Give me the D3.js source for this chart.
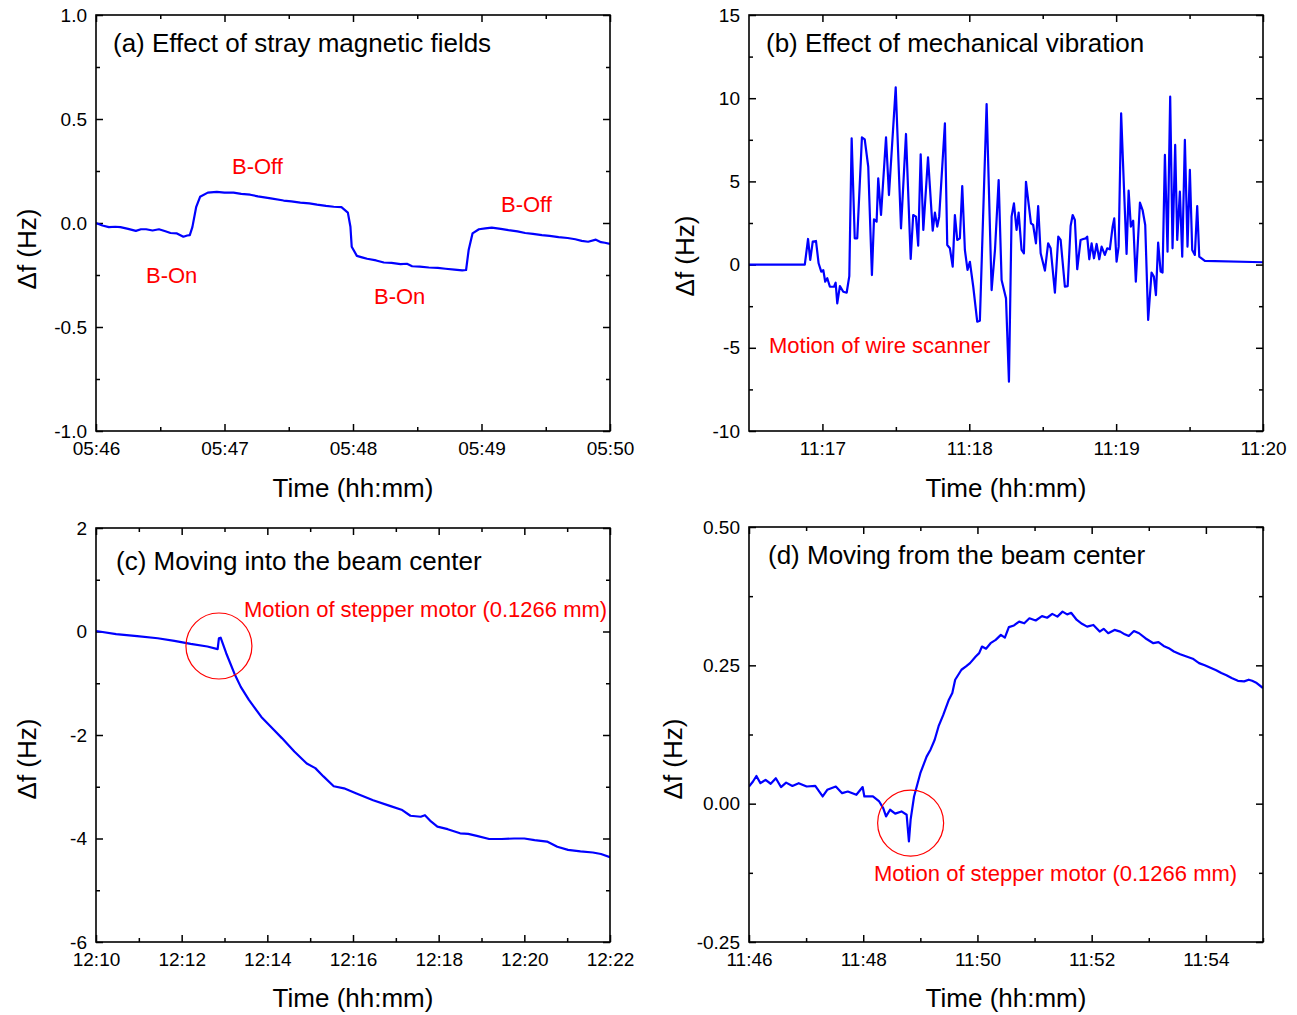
<!DOCTYPE html>
<html>
<head>
<meta charset="utf-8">
<script src="https://cdnjs.cloudflare.com/ajax/libs/d3/7.8.5/d3.min.js"></script>
<style>
  body { margin: 0; background: #fff; }
  svg { display: block; }
  text { font-family: Arial, "Liberation Sans", sans-serif; }
</style>
</head>
<body>
<svg id="chart" width="1297" height="1015"></svg>
<script>
// ---- data (time = decimal minutes after the hour, df in Hz) ----

// (a) 05:46 - 05:50
const timeA = [46.00, 46.05, 46.10, 46.15, 46.19, 46.25, 46.31, 46.35, 46.39, 46.44, 46.49, 46.54, 46.58, 46.63, 46.68, 46.71, 46.73, 46.75, 46.78, 46.81, 46.87, 46.94, 47.00, 47.07, 47.13, 47.20, 47.26, 47.36, 47.46, 47.52, 47.59, 47.66, 47.72, 47.79, 47.85, 47.91, 47.96, 47.98, 47.99, 48.03, 48.07, 48.11, 48.18, 48.24, 48.30, 48.37, 48.42, 48.46, 48.52, 48.59, 48.66, 48.72, 48.79, 48.85, 48.88, 48.90, 48.93, 48.98, 49.03, 49.08, 49.15, 49.21, 49.28, 49.34, 49.40, 49.47, 49.53, 49.60, 49.67, 49.73, 49.78, 49.83, 49.89, 49.93, 49.96, 50.00];
const dfA   = [0.000, -0.012, -0.020, -0.018, -0.020, -0.028, -0.038, -0.030, -0.030, -0.036, -0.030, -0.040, -0.048, -0.050, -0.066, -0.060, -0.058, -0.020, 0.078, 0.126, 0.146, 0.150, 0.146, 0.146, 0.140, 0.136, 0.128, 0.118, 0.108, 0.104, 0.098, 0.094, 0.088, 0.082, 0.078, 0.076, 0.050, -0.018, -0.114, -0.158, -0.165, -0.172, -0.180, -0.190, -0.192, -0.198, -0.196, -0.208, -0.210, -0.214, -0.216, -0.220, -0.224, -0.228, -0.226, -0.130, -0.050, -0.030, -0.026, -0.022, -0.028, -0.034, -0.040, -0.048, -0.052, -0.058, -0.062, -0.068, -0.072, -0.078, -0.086, -0.090, -0.080, -0.092, -0.095, -0.100];

// (b) 11:16:30 - 11:20
const timeB = [16.50, 16.88, 16.902, 16.917, 16.934, 16.956, 16.974, 16.992, 17.006, 17.019, 17.033, 17.051, 17.079, 17.090, 17.101, 17.119, 17.142, 17.165, 17.183, 17.199, 17.220, 17.237, 17.269, 17.288, 17.312, 17.337, 17.351, 17.369, 17.380, 17.399, 17.433, 17.453, 17.499, 17.535, 17.569, 17.601, 17.618, 17.637, 17.652, 17.669, 17.687, 17.719, 17.751, 17.766, 17.782, 17.795, 17.834, 17.850, 17.868, 17.887, 17.902, 17.918, 17.936, 17.952, 17.970, 17.988, 18.004, 18.027, 18.054, 18.072, 18.118, 18.152, 18.175, 18.200, 18.220, 18.250, 18.270, 18.288, 18.304, 18.322, 18.336, 18.356, 18.372, 18.386, 18.401, 18.420, 18.435, 18.454, 18.469, 18.486, 18.515, 18.537, 18.554, 18.583, 18.606, 18.622, 18.651, 18.670, 18.690, 18.704, 18.719, 18.735, 18.758, 18.776, 18.794, 18.803, 18.817, 18.833, 18.849, 18.867, 18.885, 18.901, 18.923, 18.939, 18.957, 18.976, 18.987, 19.003, 19.017, 19.034, 19.053, 19.071, 19.085, 19.100, 19.116, 19.134, 19.162, 19.180, 19.198, 19.218, 19.241, 19.257, 19.271, 19.286, 19.303, 19.316, 19.332, 19.350, 19.368, 19.384, 19.402, 19.416, 19.434, 19.450, 19.468, 19.486, 19.502, 19.518, 19.536, 19.552, 19.566, 19.604, 20.00];
const dfB   = [0.00, 0.00, 1.54, 0.28, 1.38, 1.42, 0.08, -0.42, -0.33, -1.03, -0.82, -1.33, -1.33, -1.09, -2.33, -1.29, -1.63, -1.69, -0.69, 7.59, 1.58, 1.58, 7.65, 7.53, 5.88, -0.63, 2.72, 2.58, 5.19, 2.98, 7.65, 4.18, 10.65, 2.18, 7.85, 0.34, 2.98, 2.88, 1.14, 6.63, 2.08, 6.45, 2.04, 3.12, 2.28, 2.88, 8.49, 1.18, 0.98, -0.12, 2.98, 1.48, 1.58, 4.72, 0.88, -0.32, 0.17, -1.33, -3.43, -3.37, 9.65, -1.53, 0.88, 5.08, -0.93, -2.03, -7.04, 2.88, 3.68, 2.08, 3.12, 0.88, 0.68, 4.98, 3.88, 2.48, 2.38, 1.28, 3.52, 0.68, -0.36, 1.28, 0.98, -1.69, 1.68, 1.48, -1.33, -1.29, 2.32, 2.98, 2.68, -0.28, 1.48, 1.54, 1.58, 1.68, 0.32, 1.28, 0.38, 1.24, 0.32, 1.08, 0.58, 0.98, 0.92, 2.28, 2.78, 0.18, 1.08, 9.09, 4.68, 0.64, 4.44, 2.28, 2.64, -1.03, 3.72, 3.28, 2.38, -3.33, -0.48, -0.72, -1.83, 1.32, -0.42, -0.48, 6.59, 0.78, 10.09, 0.98, 7.19, 1.48, 4.38, 0.48, 7.49, 1.08, 5.69, 0.88, 0.58, 3.52, 0.48, 0.22, 0.14];

// (c) 12:10 - 12:22
const timeC = [10.00, 10.47, 10.96, 11.44, 11.83, 12.21, 12.60, 12.84, 12.87, 12.91, 13.04, 13.23, 13.38, 13.57, 13.86, 14.15, 14.34, 14.63, 14.92, 15.12, 15.31, 15.55, 15.79, 16.08, 16.47, 16.86, 17.15, 17.34, 17.58, 17.68, 17.82, 17.97, 18.21, 18.50, 18.69, 18.89, 19.18, 19.47, 19.76, 20.00, 20.24, 20.53, 20.77, 21.02, 21.31, 21.60, 21.79, 22.00];
const dfC   = [0.01, -0.05, -0.09, -0.13, -0.18, -0.24, -0.29, -0.34, -0.13, -0.12, -0.42, -0.81, -1.07, -1.32, -1.65, -1.90, -2.06, -2.32, -2.55, -2.64, -2.80, -2.99, -3.03, -3.13, -3.26, -3.37, -3.45, -3.56, -3.58, -3.55, -3.67, -3.77, -3.82, -3.90, -3.91, -3.95, -4.01, -4.01, -4.00, -4.00, -4.03, -4.06, -4.16, -4.22, -4.25, -4.27, -4.30, -4.36];

// (d) 11:46 - 11:55
const timeD = [46.00, 46.07, 46.13, 46.20, 46.29, 46.38, 46.47, 46.56, 46.65, 46.76, 46.87, 47.01, 47.16, 47.29, 47.37, 47.52, 47.63, 47.73, 47.88, 47.99, 48.02, 48.17, 48.28, 48.35, 48.40, 48.47, 48.56, 48.67, 48.76, 48.80, 48.83, 48.89, 49.00, 49.11, 49.18, 49.25, 49.32, 49.40, 49.50, 49.56, 49.61, 49.72, 49.80, 49.87, 49.97, 50.03, 50.08, 50.15, 50.23, 50.32, 50.41, 50.48, 50.55, 50.64, 50.73, 50.82, 50.91, 51.02, 51.13, 51.22, 51.31, 51.40, 51.49, 51.57, 51.64, 51.74, 51.83, 51.92, 52.03, 52.14, 52.21, 52.29, 52.40, 52.50, 52.58, 52.65, 52.74, 52.83, 52.94, 53.08, 53.17, 53.26, 53.35, 53.44, 53.55, 53.66, 53.77, 53.88, 53.98, 54.09, 54.18, 54.27, 54.36, 54.45, 54.56, 54.67, 54.75, 54.81, 54.89, 55.00];
const dfD   = [0.031, 0.040, 0.050, 0.037, 0.043, 0.036, 0.046, 0.030, 0.038, 0.032, 0.037, 0.031, 0.032, 0.013, 0.025, 0.031, 0.019, 0.022, 0.016, 0.030, 0.013, 0.013, 0.004, -0.008, -0.023, -0.011, -0.018, -0.014, -0.020, -0.068, -0.029, 0.013, 0.055, 0.085, 0.098, 0.115, 0.140, 0.160, 0.188, 0.200, 0.224, 0.242, 0.248, 0.254, 0.266, 0.272, 0.284, 0.280, 0.290, 0.296, 0.305, 0.300, 0.319, 0.322, 0.329, 0.326, 0.335, 0.331, 0.339, 0.336, 0.343, 0.338, 0.347, 0.342, 0.345, 0.332, 0.325, 0.320, 0.323, 0.311, 0.316, 0.308, 0.314, 0.311, 0.306, 0.303, 0.312, 0.308, 0.299, 0.290, 0.292, 0.285, 0.281, 0.275, 0.270, 0.266, 0.262, 0.254, 0.250, 0.245, 0.241, 0.236, 0.232, 0.227, 0.222, 0.221, 0.224, 0.222, 0.218, 0.209];

// tick values and labels
const xTicksA = [46, 47, 48, 49, 50], xLabelsA = ["05:46", "05:47", "05:48", "05:49", "05:50"];
const xMinorA = [46.5, 47.5, 48.5, 49.5];
const yTicksA = [1.0, 0.5, 0.0, -0.5, -1.0], yLabelsA = ["1.0", "0.5", "0.0", "-0.5", "-1.0"];
const yMinorA = [0.75, 0.25, -0.25, -0.75];

const xTicksB = [17, 18, 19, 20], xLabelsB = ["11:17", "11:18", "11:19", "11:20"];
const xMinorB = [17.5, 18.5, 19.5];
const yTicksB = [15, 10, 5, 0, -5, -10], yLabelsB = ["15", "10", "5", "0", "-5", "-10"];
const yMinorB = [12.5, 7.5, 2.5, -2.5, -7.5];

const xTicksC = [10, 12, 14, 16, 18, 20, 22], xLabelsC = ["12:10", "12:12", "12:14", "12:16", "12:18", "12:20", "12:22"];
const xMinorC = [11, 13, 15, 17, 19, 21];
const yTicksC = [2, 0, -2, -4, -6], yLabelsC = ["2", "0", "-2", "-4", "-6"];
const yMinorC = [1, -1, -3, -5];

const xTicksD = [46, 48, 50, 52, 54], xLabelsD = ["11:46", "11:48", "11:50", "11:52", "11:54"];
const xMinorD = [47, 49, 51, 53, 55];
const yTicksD = [0.50, 0.25, 0.00, -0.25], yLabelsD = ["0.50", "0.25", "0.00", "-0.25"];
const yMinorD = [0.375, 0.125, -0.125];

const svg = d3.select("#chart");

const panels = [
  { id: "a", left: 96, right: 610, top: 15, bottom: 431, xDomain: [46, 50], yDomain: [-1, 1],
    t: timeA, v: dfA, xT: xTicksA, xL: xLabelsA, xM: xMinorA, yT: yTicksA, yL: yLabelsA, yM: yMinorA,
    title: "(a) Effect of stray magnetic fields", titlePos: [17, 37], yTitleX: 27, yTitleY: 249,
    notes: [["B-Off", 136, 159], ["B-On", 50, 268], ["B-On", 278, 289], ["B-Off", 405, 197]] },
  { id: "b", left: 749, right: 1263, top: 15, bottom: 431, xDomain: [16.5, 20], yDomain: [-10, 15],
    t: timeB, v: dfB, xT: xTicksB, xL: xLabelsB, xM: xMinorB, yT: yTicksB, yL: yLabelsB, yM: yMinorB,
    title: "(b) Effect of mechanical vibration", titlePos: [17, 37], yTitleX: 685, yTitleY: 256,
    notes: [["Motion of wire scanner", 20, 338]] },
  { id: "c", left: 96, right: 610, top: 528, bottom: 942, xDomain: [10, 22], yDomain: [-6, 2],
    t: timeC, v: dfC, xT: xTicksC, xL: xLabelsC, xM: xMinorC, yT: yTicksC, yL: yLabelsC, yM: yMinorC,
    title: "(c) Moving into the beam center", titlePos: [20, 42], yTitleX: 27, yTitleY: 759,
    notes: [["Motion of stepper motor (0.1266 mm)", 148, 89]], circle: [12.87, -0.28] },
  { id: "d", left: 749, right: 1263, top: 527, bottom: 942, xDomain: [46, 55], yDomain: [-0.25, 0.5],
    t: timeD, v: dfD, xT: xTicksD, xL: xLabelsD, xM: xMinorD, yT: yTicksD, yL: yLabelsD, yM: yMinorD,
    title: "(d) Moving from the beam center", titlePos: [19, 37], yTitleX: 673, yTitleY: 759,
    notes: [["Motion of stepper motor (0.1266 mm)", 125, 354]], circle: [48.83, -0.035] }
];

const MAJOR = 7, MINOR = 4;

function styleAxis(g) {
  g.select(".domain").remove();
  g.selectAll(".tick line").attr("stroke", "#000").attr("stroke-width", 1.5);
  g.attr("font-size", 19).attr("font-family", "Arial, 'Liberation Sans', sans-serif");
  g.selectAll(".tick text").attr("fill", "#000");
}

panels.forEach(p => {
  const g = svg.append("g");
  const x = d3.scaleLinear().domain(p.xDomain).range([p.left, p.right]);
  const y = d3.scaleLinear().domain(p.yDomain).range([p.bottom, p.top]);

  // clip
  svg.append("clipPath").attr("id", "clip-" + p.id)
    .append("rect").attr("x", p.left).attr("y", p.top)
    .attr("width", p.right - p.left).attr("height", p.bottom - p.top);

  // axes: major + minor, inward, all four sides
  const bottom = g.append("g").attr("transform", `translate(0,${p.bottom})`);
  bottom.append("g").call(d3.axisBottom(x).tickValues(p.xT).tickFormat((d, i) => p.xL[i])
    .tickSizeInner(-MAJOR).tickSizeOuter(0).tickPadding(11)).call(styleAxis);
  bottom.append("g").call(d3.axisBottom(x).tickValues(p.xM).tickFormat("")
    .tickSizeInner(-MINOR).tickSizeOuter(0)).call(styleAxis);

  const top = g.append("g").attr("transform", `translate(0,${p.top})`);
  top.append("g").call(d3.axisTop(x).tickValues(p.xT).tickFormat("").tickSizeInner(-MAJOR).tickSizeOuter(0)).call(styleAxis);
  top.append("g").call(d3.axisTop(x).tickValues(p.xM).tickFormat("").tickSizeInner(-MINOR).tickSizeOuter(0)).call(styleAxis);

  const left = g.append("g").attr("transform", `translate(${p.left},0)`);
  left.append("g").call(d3.axisLeft(y).tickValues(p.yT).tickFormat((d, i) => p.yL[i])
    .tickSizeInner(-MAJOR).tickSizeOuter(0).tickPadding(9)).call(styleAxis);
  left.append("g").call(d3.axisLeft(y).tickValues(p.yM).tickFormat("")
    .tickSizeInner(-MINOR).tickSizeOuter(0)).call(styleAxis);

  const right = g.append("g").attr("transform", `translate(${p.right},0)`);
  right.append("g").call(d3.axisRight(y).tickValues(p.yT).tickFormat("").tickSizeInner(-MAJOR).tickSizeOuter(0)).call(styleAxis);
  right.append("g").call(d3.axisRight(y).tickValues(p.yM).tickFormat("").tickSizeInner(-MINOR).tickSizeOuter(0)).call(styleAxis);

  // data line
  const pts = p.t.map((t, i) => [t, p.v[i]]);
  g.append("path").datum(pts)
    .attr("clip-path", `url(#clip-${p.id})`)
    .attr("fill", "none").attr("stroke", "#0000ff").attr("stroke-width", 2.2)
    .attr("stroke-linejoin", "round")
    .attr("d", d3.line().x(d => x(d[0])).y(d => y(d[1])));

  // frame
  g.append("rect").attr("x", p.left).attr("y", p.top)
    .attr("width", p.right - p.left).attr("height", p.bottom - p.top)
    .attr("fill", "none").attr("stroke", "#000").attr("stroke-width", 1.6);

  // panel title
  g.append("text").attr("x", p.left + p.titlePos[0]).attr("y", p.top + p.titlePos[1])
    .attr("font-size", 26).attr("fill", "#000").text(p.title);

  // axis titles
  g.append("text").attr("x", (p.left + p.right) / 2).attr("y", p.id === "a" || p.id === "b" ? 497 : 1007)
    .attr("text-anchor", "middle").attr("font-size", 26).attr("fill", "#000").text("Time (hh:mm)");
  g.append("text").attr("transform", `translate(${p.yTitleX},${p.yTitleY}) rotate(-90)`)
    .attr("text-anchor", "middle").attr("dominant-baseline", "central")
    .attr("font-size", 26).attr("fill", "#000").text("Δf (Hz)");

  // red annotations
  p.notes.forEach(([txt, dx, dy]) => {
    g.append("text").attr("x", p.left + dx).attr("y", p.top + dy)
      .attr("font-size", 22).attr("fill", "#ff0000").text(txt);
  });
  if (p.circle) {
    g.append("circle").attr("cx", x(p.circle[0])).attr("cy", y(p.circle[1])).attr("r", 33)
      .attr("fill", "none").attr("stroke", "#ff0000").attr("stroke-width", 1.2);
  }
});
</script>
</body>
</html>
